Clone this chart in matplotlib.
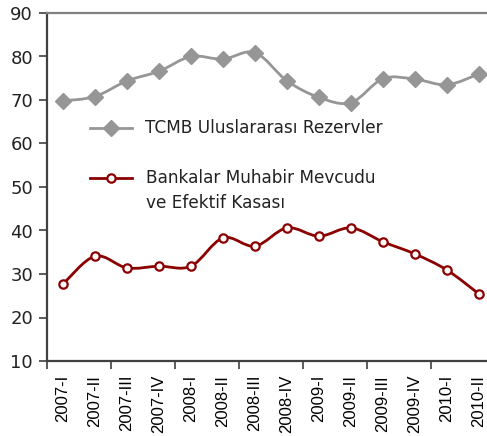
import numpy as np
import matplotlib.pyplot as plt
from matplotlib.path import Path
from matplotlib.patches import PathPatch
from matplotlib.lines import Line2D

quarters = ["2007-I", "2007-II", "2007-III", "2007-IV", "2008-I", "2008-II", "2008-III",
            "2008-IV", "2009-I", "2009-II", "2009-III", "2009-IV", "2010-I", "2010-II"]
reserves = [69.8, 70.8, 74.4, 76.6, 80.0, 79.4, 80.9, 74.4, 70.6, 69.4, 74.9, 74.8, 73.5, 76.0]
banks = [27.7, 34.1, 31.4, 31.8, 31.8, 38.3, 36.4, 40.6, 38.7, 40.6, 37.4, 34.6, 30.9, 25.4]

GRAY = "#969696"
RED = "#8b0000"


def smooth_path(x, y):
    # Excel-style smoothed line: cubic bezier through each point
    pts = np.column_stack([x, y]).astype(float)
    n = len(pts)
    verts = [pts[0]]
    codes = [Path.MOVETO]
    for i in range(n - 1):
        p0 = pts[i - 1] if i > 0 else pts[i]
        p1 = pts[i]
        p2 = pts[i + 1]
        p3 = pts[i + 2] if i + 2 < n else pts[i + 1]
        c1 = p1 + (p2 - p0) / 6.0
        c2 = p2 - (p3 - p1) / 6.0
        verts += [c1, c2, p2]
        codes += [Path.CURVE4] * 3
    return Path(verts, codes)


fig = plt.figure(figsize=(4.87, 4.36), dpi=100)
ax = fig.add_axes([47 / 487, 75 / 436, 448 / 487, 348 / 436])

x = np.arange(len(quarters))
for vals, color, lw in [(reserves, GRAY, 2.0), (banks, RED, 2.0)]:
    ax.add_patch(PathPatch(smooth_path(x, vals), facecolor="none", edgecolor=color, lw=lw, zorder=2))

ax.plot(x, reserves, linestyle="none", marker="D", markersize=8, color=GRAY, zorder=3)
ax.plot(x, banks, linestyle="none", marker="o", markersize=6, markerfacecolor="white",
        markeredgecolor=RED, markeredgewidth=1.6, zorder=3)

ax.set_xlim(-0.5, len(quarters) - 0.5)
ax.set_ylim(10, 90)
ax.set_yticks(range(10, 91, 10))
ax.tick_params(axis="y", labelsize=13, length=6, width=1.2, color="#404040", pad=4,
               labelcolor="#222222")

ax.set_xticks(np.arange(-0.5, len(quarters), 2))
ax.set_xticklabels([])
ax.tick_params(axis="x", which="major", length=6, width=1.2, color="#404040")
ax.set_xticks(x, minor=True)
ax.set_xticklabels(quarters, minor=True, rotation=90, fontsize=12, family="Liberation Sans",
                   va="top", ha="center")
ax.tick_params(axis="x", which="minor", length=0, pad=10)

ax.spines["right"].set_visible(False)
ax.spines["top"].set_color("#808080")
ax.spines["top"].set_linewidth(1.6)
for s in ["left", "bottom"]:
    ax.spines[s].set_color("#404040")
    ax.spines[s].set_linewidth(1.6)

# legend drawn by hand inside the plot
def axf(px, py):
    return ((px - 47) / 448, (361 - py) / 348)

l1 = Line2D([axf(90, 0)[0], axf(132, 0)[0]], [axf(0, 128)[1]] * 2, color=GRAY, lw=2,
            transform=ax.transAxes)
m1 = Line2D([axf(111, 0)[0]], [axf(0, 128)[1]], marker="D", markersize=8, color=GRAY,
            transform=ax.transAxes)
l2 = Line2D([axf(90, 0)[0], axf(132, 0)[0]], [axf(0, 178)[1]] * 2, color=RED, lw=2,
            transform=ax.transAxes)
m2 = Line2D([axf(111, 0)[0]], [axf(0, 178)[1]], marker="o", markersize=6, markerfacecolor="white",
            markeredgecolor=RED, markeredgewidth=1.6, transform=ax.transAxes)
for ln in (l1, m1, l2, m2):
    ax.add_line(ln)

tx, ty = axf(145, 128)
ax.text(tx, ty, "TCMB Uluslararası Rezervler", transform=ax.transAxes, fontsize=12.2,
        va="center", ha="left", color="#222222")
tx, ty = axf(146, 178)
ax.text(tx, ty, "Bankalar Muhabir Mevcudu", transform=ax.transAxes, fontsize=12.2,
        va="center", ha="left", color="#222222")
tx, ty = axf(146, 203)
ax.text(tx, ty, "ve Efektif Kasası", transform=ax.transAxes, fontsize=12.2,
        va="center", ha="left", color="#222222")

fig.savefig("out.png", dpi=100)
